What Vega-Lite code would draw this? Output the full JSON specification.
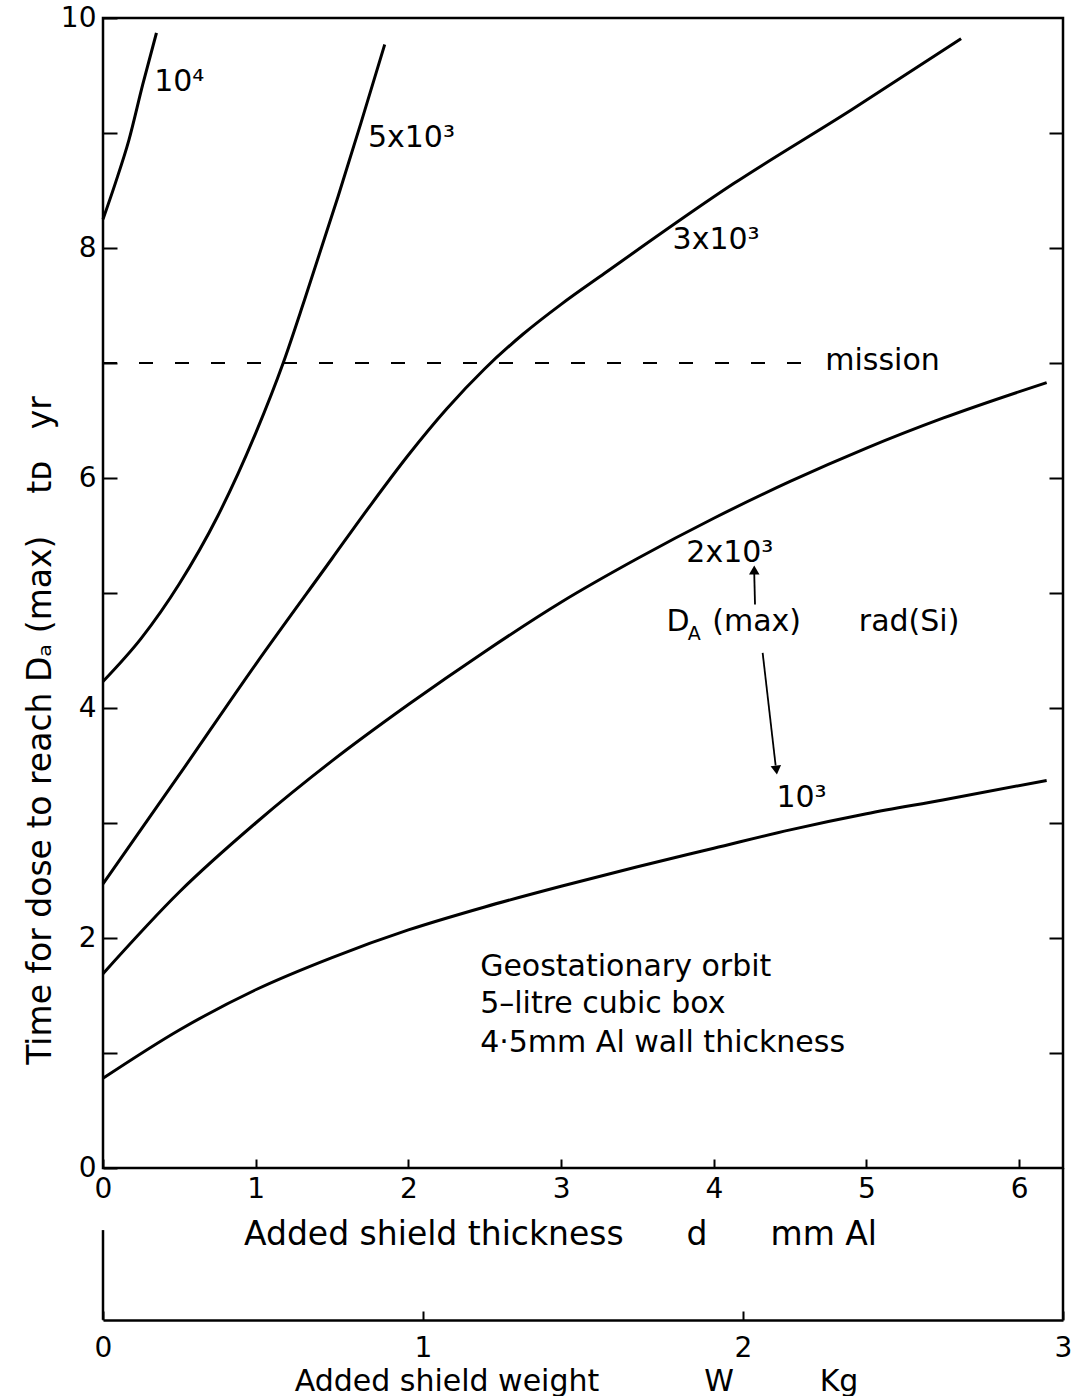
{
  "$schema": "https://vega.github.io/schema/vega-lite/v6.json",
  "width": 960,
  "height": 1150,
  "autosize": "none",
  "padding": {"left": 103, "top": 18, "right": 13, "bottom": 228},
  "background": "white",
  "config": {
    "view": {"stroke": "black", "strokeWidth": 2.5},
    "font": "DejaVu Sans",
    "axis": {
      "domainColor": "black", "tickColor": "black", "labelColor": "black", "titleColor": "black",
      "grid": false, "labelFont": "DejaVu Sans", "titleFont": "DejaVu Sans", "titleFontWeight": "normal",
      "domainWidth": 2.5, "tickWidth": 2, "labelFlush": false, "labelOverlap": false, "labelBound": false
    }
  },
  "datasets": {
    "curves": [
      {"dose": "1e3", "d": 0, "t": 0.78}, {"dose": "1e3", "d": 0.5, "t": 1.2}, {"dose": "1e3", "d": 1, "t": 1.55},
      {"dose": "1e3", "d": 1.5, "t": 1.83}, {"dose": "1e3", "d": 2, "t": 2.07}, {"dose": "1e3", "d": 2.5, "t": 2.27},
      {"dose": "1e3", "d": 3, "t": 2.45}, {"dose": "1e3", "d": 3.5, "t": 2.62}, {"dose": "1e3", "d": 4, "t": 2.78},
      {"dose": "1e3", "d": 4.5, "t": 2.94}, {"dose": "1e3", "d": 5, "t": 3.08}, {"dose": "1e3", "d": 5.5, "t": 3.2},
      {"dose": "1e3", "d": 6.18, "t": 3.37},
      {"dose": "2e3", "d": 0, "t": 1.69}, {"dose": "2e3", "d": 0.5, "t": 2.4}, {"dose": "2e3", "d": 1, "t": 3.0},
      {"dose": "2e3", "d": 1.5, "t": 3.54}, {"dose": "2e3", "d": 2, "t": 4.03}, {"dose": "2e3", "d": 2.5, "t": 4.49},
      {"dose": "2e3", "d": 3, "t": 4.92}, {"dose": "2e3", "d": 3.5, "t": 5.3}, {"dose": "2e3", "d": 4, "t": 5.65},
      {"dose": "2e3", "d": 4.5, "t": 5.97}, {"dose": "2e3", "d": 5, "t": 6.26}, {"dose": "2e3", "d": 5.5, "t": 6.52},
      {"dose": "2e3", "d": 6.18, "t": 6.83},
      {"dose": "3e3", "d": 0, "t": 2.47}, {"dose": "3e3", "d": 0.5, "t": 3.42}, {"dose": "3e3", "d": 1, "t": 4.38},
      {"dose": "3e3", "d": 1.5, "t": 5.3}, {"dose": "3e3", "d": 1.75, "t": 5.76}, {"dose": "3e3", "d": 2, "t": 6.2},
      {"dose": "3e3", "d": 2.25, "t": 6.6}, {"dose": "3e3", "d": 2.5, "t": 6.95}, {"dose": "3e3", "d": 2.75, "t": 7.25},
      {"dose": "3e3", "d": 3, "t": 7.51}, {"dose": "3e3", "d": 3.285, "t": 7.78}, {"dose": "3e3", "d": 4.13, "t": 8.56},
      {"dose": "3e3", "d": 4.9, "t": 9.2}, {"dose": "3e3", "d": 5.62, "t": 9.82},
      {"dose": "5e3", "d": 0, "t": 4.23}, {"dose": "5e3", "d": 0.25, "t": 4.605}, {"dose": "5e3", "d": 0.5, "t": 5.08},
      {"dose": "5e3", "d": 0.75, "t": 5.665}, {"dose": "5e3", "d": 1, "t": 6.39}, {"dose": "5e3", "d": 1.18, "t": 7.0},
      {"dose": "5e3", "d": 1.32, "t": 7.55}, {"dose": "5e3", "d": 1.54, "t": 8.45}, {"dose": "5e3", "d": 1.69, "t": 9.09},
      {"dose": "5e3", "d": 1.845, "t": 9.77},
      {"dose": "1e4", "d": 0, "t": 8.25}, {"dose": "1e4", "d": 0.08, "t": 8.56}, {"dose": "1e4", "d": 0.17, "t": 8.94},
      {"dose": "1e4", "d": 0.26, "t": 9.42}, {"dose": "1e4", "d": 0.35, "t": 9.87}
    ],
    "labels": [
      {"d": 0.335, "t": 9.44, "text": "10⁴"},
      {"d": 1.735, "t": 8.96, "text": "5x10³"},
      {"d": 3.73, "t": 8.07, "text": "3x10³"},
      {"d": 3.82, "t": 5.35, "text": "2x10³"},
      {"d": 4.41, "t": 3.22, "text": "10³"},
      {"d": 3.69, "t": 4.75, "text": "D"},
      {"d": 3.99, "t": 4.75, "text": "(max)"},
      {"d": 4.95, "t": 4.75, "text": "rad(Si)"},
      {"d": 4.73, "t": 7.02, "text": "mission"}
    ],
    "notes": [
      {"d": 2.47, "t": 1.745, "text": "Geostationary  orbit"},
      {"d": 2.47, "t": 1.43, "text": "5–litre  cubic  box"},
      {"d": 2.47, "t": 1.09, "text": "4·5mm Al wall thickness"}
    ],
    "arrows": [
      {"d": 4.27, "t": 4.90, "d2": 4.265, "t2": 5.17},
      {"d": 4.32, "t": 4.48, "d2": 4.405, "t2": 3.5}
    ]
  },
  "layer": [
    {
      "layer": [
        {
          "data": {"name": "curves"},
          "mark": {"type": "line", "color": "black", "strokeWidth": 3, "interpolate": "monotone", "clip": false},
          "encoding": {
            "x": {
              "field": "d", "type": "quantitative",
              "scale": {"domain": [0, 6.287], "nice": false, "zero": false},
              "axis": {
                "orient": "bottom", "values": [0, 1, 2, 3, 4, 5, 6], "format": "d", "tickSize": -9, "labelPadding": 16,
                "labelFontSize": 28, "domain": false,
                "title": "Added shield thickness\u00a0\u00a0\u00a0\u00a0\u00a0\u00a0d\u00a0\u00a0\u00a0\u00a0\u00a0\u00a0mm Al",
                "titleFontSize": 33, "titleX": 457, "titleY": 50, "titleAlign": "center", "titleBaseline": "top"
              }
            },
            "y": {
              "field": "t", "type": "quantitative",
              "scale": {"domain": [0, 10], "nice": false, "zero": false},
              "axis": {
                "orient": "left", "values": [0, 1, 2, 3, 4, 5, 6, 7, 8, 9, 10], "format": "d", "tickSize": -14, "labelPadding": 21,
                "labelExpr": "datum.value % 2 == 0 ? datum.label : ''", "labelFontSize": 28, "domain": false,
                "title": "Time for dose to reach D\u2090 (max)\u00a0\u00a0\u00a0\u00a0t\u1d05\u00a0\u00a0\u00a0yr",
                "titleFontSize": 33, "titleAngle": -90, "titleX": -63, "titleY": 712,
                "titleAlign": "center", "titleBaseline": "middle"
              }
            },
            "detail": {"field": "dose", "type": "nominal"}
          }
        },
        {
          "data": {"values": [{}]},
          "mark": {"type": "rule", "color": "black", "strokeWidth": 2, "strokeDash": [14, 22]},
          "encoding": {
            "x": {"datum": 0, "scale": {"domain": [0, 6.287], "nice": false, "zero": false}},
            "x2": {"datum": 4.62},
            "y": {"datum": 7, "scale": {"domain": [0, 10], "nice": false, "zero": false}}
          }
        },
        {
          "data": {"name": "labels"},
          "mark": {"type": "text", "align": "left", "baseline": "middle", "fontSize": 30, "color": "black"},
          "encoding": {
            "x": {"field": "d", "type": "quantitative", "scale": {"domain": [0, 6.287], "nice": false, "zero": false}},
            "y": {"field": "t", "type": "quantitative", "scale": {"domain": [0, 10], "nice": false, "zero": false}},
            "text": {"field": "text"}
          }
        },
        {
          "data": {"values": [{"d": 3.83, "t": 4.64, "text": "A"}]},
          "mark": {"type": "text", "align": "left", "baseline": "middle", "fontSize": 19, "color": "black"},
          "encoding": {
            "x": {"field": "d", "type": "quantitative", "scale": {"domain": [0, 6.287], "nice": false, "zero": false}},
            "y": {"field": "t", "type": "quantitative", "scale": {"domain": [0, 10], "nice": false, "zero": false}},
            "text": {"field": "text"}
          }
        },
        {
          "data": {"name": "notes"},
          "mark": {"type": "text", "align": "left", "baseline": "middle", "fontSize": 30, "color": "black"},
          "encoding": {
            "x": {"field": "d", "type": "quantitative", "scale": {"domain": [0, 6.287], "nice": false, "zero": false}},
            "y": {"field": "t", "type": "quantitative", "scale": {"domain": [0, 10], "nice": false, "zero": false}},
            "text": {"field": "text"}
          }
        },
        {
          "data": {"name": "arrows"},
          "mark": {"type": "rule", "color": "black", "strokeWidth": 1.8},
          "encoding": {
            "x": {"field": "d", "type": "quantitative", "scale": {"domain": [0, 6.287], "nice": false, "zero": false}},
            "y": {"field": "t", "type": "quantitative", "scale": {"domain": [0, 10], "nice": false, "zero": false}},
            "x2": {"field": "d2"},
            "y2": {"field": "t2"}
          }
        },
        {
          "data": {"values": [{}]},
          "mark": {"type": "point", "shape": "triangle-up", "filled": true, "color": "black", "size": 110, "opacity": 1},
          "encoding": {
            "x": {"datum": 4.265, "scale": {"domain": [0, 6.287], "nice": false, "zero": false}},
            "y": {"datum": 5.2, "scale": {"domain": [0, 10], "nice": false, "zero": false}}
          }
        },
        {
          "data": {"values": [{}]},
          "mark": {"type": "point", "shape": "triangle-down", "filled": true, "color": "black", "size": 110, "opacity": 1, "angle": -7},
          "encoding": {
            "x": {"datum": 4.41, "scale": {"domain": [0, 6.287], "nice": false, "zero": false}},
            "y": {"datum": 3.46, "scale": {"domain": [0, 10], "nice": false, "zero": false}}
          }
        },
        {
          "data": {"values": [{}]},
          "mark": {"type": "rule", "color": "black", "strokeWidth": 2.5, "clip": false},
          "encoding": {
            "x": {"datum": 6.287, "scale": {"domain": [0, 6.287], "nice": false, "zero": false}},
            "y": {"datum": 0, "scale": {"domain": [0, 10], "nice": false, "zero": false}},
            "y2": {"datum": -1.32}
          }
        }
      ]
    },
    {
      "data": {"values": [{"t": 0}, {"t": 10}]},
      "mark": {"type": "point", "opacity": 0},
      "encoding": {
        "y": {
          "field": "t", "type": "quantitative",
          "scale": {"domain": [0, 10], "nice": false, "zero": false},
          "axis": {"orient": "right", "values": [1, 2, 3, 4, 5, 6, 7, 8, 9], "tickSize": -14, "labels": false, "domain": false, "title": null}
        }
      }
    },
    {
      "data": {"values": [{"w": 0}]},
      "mark": {"type": "rule", "color": "black", "strokeWidth": 2.5, "clip": false},
      "encoding": {
        "x": {
          "field": "w", "type": "quantitative",
          "scale": {"domain": [0, 3], "nice": false, "zero": false},
          "axis": {
            "orient": "bottom", "offset": 152, "values": [0, 0.5, 1, 1.5, 2, 2.5, 3], "format": "d", "tickSize": -9, "labelPadding": 23,
            "labelExpr": "datum.value % 1 == 0 ? datum.label : ''", "labelFontSize": 28, "domain": true,
            "title": "Added shield weight\u00a0\u00a0\u00a0\u00a0\u00a0\u00a0\u00a0\u00a0\u00a0\u00a0\u00a0W\u00a0\u00a0\u00a0\u00a0\u00a0\u00a0\u00a0\u00a0\u00a0Kg",
            "titleFontSize": 30, "titleX": 473, "titleY": 46, "titleAlign": "center", "titleBaseline": "top"
          }
        },
        "y": {"datum": -0.54, "scale": {"domain": [0, 10], "nice": false, "zero": false}, "axis": null},
        "y2": {"datum": -1.32}
      }
    }
  ],
  "resolve": {
    "scale": {"x": "independent", "y": "independent"},
    "axis": {"x": "independent", "y": "independent"}
  }
}
